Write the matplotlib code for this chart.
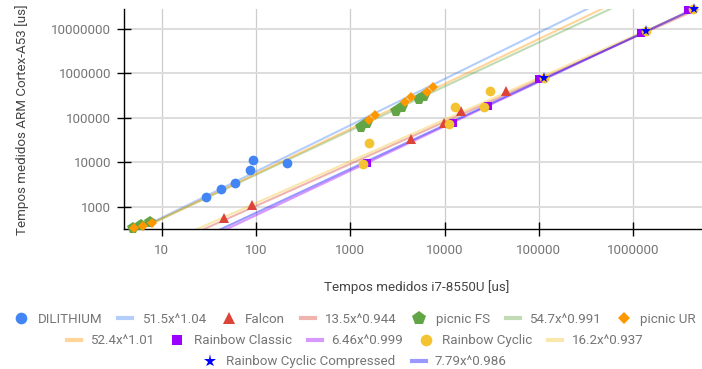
import matplotlib
matplotlib.use("Agg")
import matplotlib.pyplot as plt
from matplotlib.lines import Line2D
import numpy as np

plt.rcParams['font.family'] = ['Roboto', 'DejaVu Sans']

# ---- data ----
dil_x = [29.5, 42.3, 59.4, 85.7, 92.3, 213]
dil_y = [1680, 2500, 3460, 6680, 11000, 9760]

fal_x = [46, 91, 4400, 9860, 14800, 44800]
fal_y = [560, 1100, 32600, 74800, 141000, 404000]

pfs_x = [4.9, 6.1, 7.6, 1288, 1516, 3055, 3500, 5350, 6000]
pfs_y = [335, 395, 455, 60800, 74800, 143000, 176000, 259000, 307000]

pur_x = [5.1, 6.4, 7.8, 1592, 1830, 3776, 4440, 6560, 7590]
pur_y = [325, 375, 425, 88800, 113000, 225000, 287000, 384000, 482000]

rcl_x = [1490, 12360, 29100, 101000, 1.2e6, 3.86e6]
rcl_y = [9450, 76300, 186000, 730000, 7.9e6, 2.6e7]

rcy_x = [1374, 1592, 11200, 12880, 26400, 30300, 113000, 1.37e6, 4.34e6]
rcy_y = [9100, 26500, 72000, 171000, 171000, 404000, 768000, 8.87e6, 2.78e7]

rcc_x = [114000, 1.38e6, 4.4e6]
rcc_y = [780000, 8.9e6, 2.8e7]

series_names = ["DILITHIUM", "Falcon", "picnic FS", "picnic UR",
                "Rainbow Classic", "Rainbow Cyclic", "Rainbow Cyclic Compressed"]
fit_a = [51.5, 13.5, 54.7, 52.4, 6.46, 16.2, 7.79]
fit_b = [1.04, 0.944, 0.991, 1.01, 0.999, 0.937, 0.986]

x_ticks = [10, 100, 1000, 10000, 100000, 1000000]
y_ticks = [1000, 10000, 100000, 1000000, 10000000]

xs_all = [dil_x, fal_x, pfs_x, pur_x, rcl_x, rcy_x, rcc_x]
ys_all = [dil_y, fal_y, pfs_y, pur_y, rcl_y, rcy_y, rcc_y]

colors = ["#4285f4", "#db4437", "#62a547", "#ff9800", "#9c00ff", "#f4c331", "#0000ff"]
markers = ["o", "^", "p", "D", "s", "o", "*"]
msizes = [7, 7.5, 8.5, 5.3, 6.2, 7, 8]

fig = plt.figure(figsize=(7.02, 3.69), dpi=100)
ax = fig.add_axes([124/702, 1-229/369, (702-124)/702, (229-9.3)/369])

ax.set_xscale('log')
ax.set_yscale('log')
xmin, xmax = 3.98, 5.37e6
ax.set_xlim(xmin, xmax)
ax.set_ylim(316, 2.73e7)

# trend lines
xl = np.logspace(np.log10(xmin), np.log10(xmax), 200)
for a, b, c in zip(fit_a, fit_b, colors):
    ax.plot(xl, a * xl ** b, color=c, alpha=0.4, lw=1.5, zorder=2)

# points
for x, y, c, m, ms in zip(xs_all, ys_all, colors, markers, msizes):
    ax.plot(x, y, ls='none', marker=m, color=c, ms=ms, mew=0, zorder=3, clip_on=False)

ax.set_xticks(x_ticks)
ax.set_xticklabels([str(v) for v in x_ticks])
ax.set_yticks(y_ticks)
ax.set_yticklabels([str(v) for v in y_ticks])
ax.minorticks_off()
ax.tick_params(axis='both', direction='inout', length=9.5, width=1, color='black',
               labelsize=9.6, labelcolor='#757575')
ax.tick_params(axis='x', pad=6)
ax.tick_params(axis='y', pad=4.5)

for s in ['top', 'right']:
    ax.spines[s].set_visible(False)
for s in ['left', 'bottom']:
    ax.spines[s].set_linewidth(1)
    ax.spines[s].set_color('black')

ax.grid(True, axis='y', color='#dddddd', lw=1.4, zorder=0)
ax.grid(True, axis='x', color='#cccccc', lw=0.9, zorder=0)
ax.set_axisbelow(True)

fig.text(417/702, 1-287/369, "Tempos medidos i7-8550U [us]", ha='center', va='center',
         fontsize=9.6, color='#444444')
fig.text(22/702, 1-120/369, "Tempos medidos ARM Cortex-A53 [us]", ha='center', va='center',
         rotation=90, fontsize=9.6, color='#444444')

# legend
entries = []
for i in range(len(series_names)):
    mh = Line2D([], [], ls='none', marker=markers[i], color=colors[i],
                ms=msizes[i] * 1.2, mew=0)
    lh = Line2D([], [], color=colors[i], alpha=0.4, lw=3)
    entries.append((mh, series_names[i]))
    entries.append((lh, f"{fit_a[i]}x^{fit_b[i]}"))

rows = [entries[0:7], entries[7:12], entries[12:14]]
row_y = [1-319.3/369, 1-340.7/369, 1-361.7/369]
for r, yy in zip(rows, row_y):
    leg = fig.legend([h for h, _ in r], [t for _, t in r], loc='center',
                     bbox_to_anchor=(355/702, yy), ncol=len(r), frameon=False,
                     fontsize=9.6, handlelength=1.05, handletextpad=0.7,
                     columnspacing=1.2, borderpad=0, borderaxespad=0)
    for t in leg.get_texts():
        t.set_color('#757575')

fig.savefig("out.png", dpi=100)
